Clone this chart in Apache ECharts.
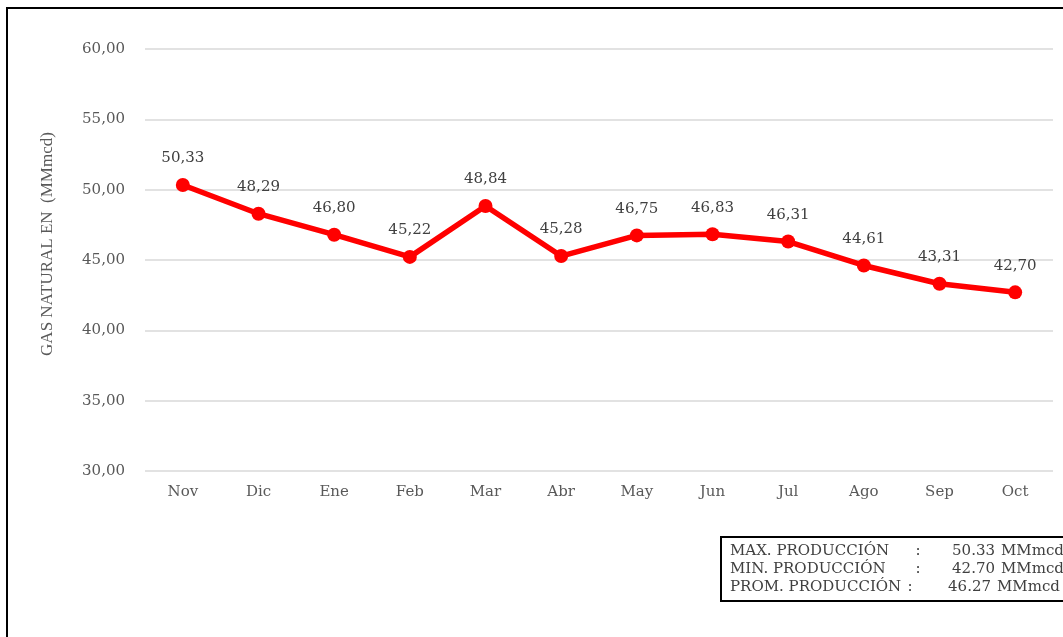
<!DOCTYPE html>
<html>
<head>
<meta charset="utf-8">
<script src="https://cdn.jsdelivr.net/npm/echarts@6/dist/echarts.min.js"></script>
<style>
  html, body { margin: 0; padding: 0; background: #fff; }
  #chart { width: 1063px; height: 637px; }
</style>
</head>
<body>
<div id="chart"></div>
<script>
const months = ["Nov", "Dic", "Ene", "Feb", "Mar", "Abr", "May", "Jun", "Jul", "Ago", "Sep", "Oct"];
const produccion = [50.33, 48.29, 46.80, 45.22, 48.84, 45.28, 46.75, 46.83, 46.31, 44.61, 43.31, 42.70];
const resumenLabels = ["MAX. PRODUCCIÓN", "MIN. PRODUCCIÓN", "PROM. PRODUCCIÓN"];
const resumenValues = ["50.33", "42.70", "46.27"];
const yTitle = "GAS NATURAL EN  (MMmcd)";

const serif = "DejaVu Serif";
const fmt = v => v.toFixed(2).replace(".", ",");

let chart = echarts.init(document.getElementById("chart"));

// cuadro resumen abajo a la derecha
let resumen = [];
resumenLabels.forEach((lbl, i) => {
  let y = 551 + i * 18;
  let off = i === 2 ? 4 : 0;
  resumen.push({ type: "text", x: 730, y: y, style: { text: lbl, font: "15px " + serif, fill: "#404040", verticalAlign: "middle" } });
  resumen.push({ type: "text", x: 918 - off * 2, y: y, style: { text: ":", font: "15px " + serif, fill: "#404040", align: "center", verticalAlign: "middle" } });
  resumen.push({ type: "text", x: 995 - off, y: y, style: { text: resumenValues[i], font: "15px " + serif, fill: "#404040", align: "right", verticalAlign: "middle" } });
  resumen.push({ type: "text", x: 1001 - off, y: y, style: { text: "MMmcd", font: "15px " + serif, fill: "#404040", verticalAlign: "middle" } });
});

let option = {
  animation: false,
  grid: { left: 145, right: 10, top: 49, bottom: 166 },
  xAxis: {
    type: "category",
    data: months,
    boundaryGap: true,
    axisLine: { show: false },
    axisTick: { show: false },
    axisLabel: { fontFamily: serif, fontSize: 15, color: "#595959", margin: 14 }
  },
  yAxis: {
    type: "value",
    min: 30,
    max: 60,
    interval: 5,
    axisLine: { show: false },
    axisTick: { show: false },
    axisLabel: { fontFamily: serif, fontSize: 15, color: "#595959", margin: 20, formatter: v => fmt(v) },
    splitLine: { lineStyle: { color: "#d9d9d9", width: 1.5 } }
  },
  series: [
    {
      type: "line",
      data: produccion,
      lineStyle: { color: "#ff0000", width: 5.5 },
      itemStyle: { color: "#ff0000" },
      symbol: "circle",
      symbolSize: 14,
      label: {
        show: true,
        position: "top",
        distance: 12,
        fontFamily: serif,
        fontSize: 15,
        color: "#404040",
        formatter: p => fmt(p.value)
      }
    }
  ],
  graphic: [
    { type: "rect", shape: { x: 7, y: 8, width: 1100, height: 700 }, style: { fill: "none", stroke: "#000", lineWidth: 2 } },
    { type: "text", x: 48, y: 244, rotation: Math.PI / 2, style: { text: yTitle, font: "17px Liberation Serif", fill: "#595959", align: "center", verticalAlign: "middle" } },
    { type: "rect", shape: { x: 721, y: 537, width: 400, height: 64 }, style: { fill: "#fff", stroke: "#000", lineWidth: 2 } }
  ].concat(resumen)
};
chart.setOption(option);
</script>
</body>
</html>
